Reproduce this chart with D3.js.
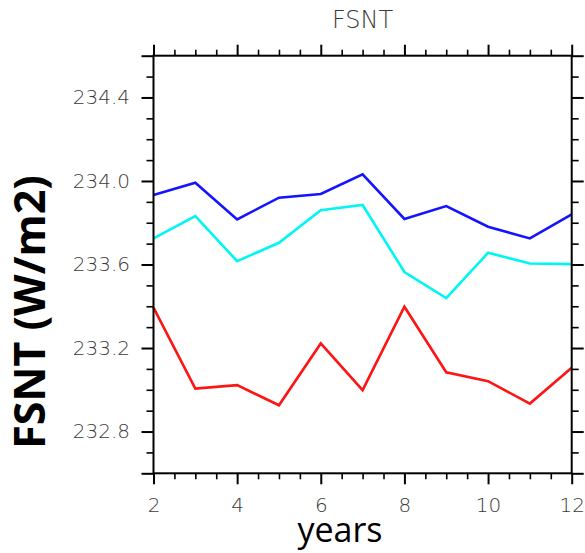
<!DOCTYPE html>
<html>
<head>
<meta charset="utf-8">
<script src="https://cdn.jsdelivr.net/npm/d3@7"></script>
<style>
  html, body { margin: 0; padding: 0; background: #fff; }
  svg { display: block; }
  .tick-label { font-family: "DejaVu Sans", sans-serif; font-weight: 200; fill: #3a3a3a; }
</style>
</head>
<body>
<svg id="chart" width="585" height="553"></svg>
<script>
// Annual-mean net shortwave flux at top of model (FSNT), three runs
const years = [2, 3, 4, 5, 6, 7, 8, 9, 10, 11, 12];
const blueSeries = [233.933, 233.992, 233.816, 233.920, 233.938, 234.032, 233.818, 233.880, 233.781, 233.725, 233.840];
const cyanSeries = [233.725, 233.832, 233.616, 233.704, 233.860, 233.885, 233.564, 233.439, 233.656, 233.605, 233.602];
const redSeries  = [233.393, 233.006, 233.022, 232.926, 233.222, 232.998, 233.398, 233.084, 233.041, 232.934, 233.105];

const xMajorTicks = [2, 4, 6, 8, 10, 12];
const xMinorTicks = [2.5, 3, 3.5, 4.5, 5, 5.5, 6.5, 7, 7.5, 8.5, 9, 9.5, 10.5, 11, 11.5];
const yMajorTicks = [232.8, 233.2, 233.6, 234.0, 234.4];
const yEdgeTicks = [232.6, 234.6];
const yMinorTicks = [232.7, 232.9, 233.0, 233.1, 233.3, 233.4, 233.5, 233.7, 233.8, 233.9, 234.1, 234.2, 234.3, 234.5];

const series = [
  { name: "blue", values: blueSeries, color: "#1414ff" },
  { name: "cyan", values: cyanSeries, color: "#00f5f5" },
  { name: "red",  values: redSeries,  color: "#ff1414" }
];

const svg = d3.select("#chart");
const plotLeft = 153.5, plotRight = 571.7, plotTop = 55.7, plotBottom = 473.3;

const x = d3.scaleLinear().domain([2, 12]).range([plotLeft, plotRight]);
const y = d3.scaleLinear().domain([232.6, 234.6]).range([plotBottom, plotTop]);

// Data lines
const line = d3.line().x((d, i) => x(years[i])).y(d => y(d));
const plot = svg.append("g");
series.forEach(s => {
  plot.append("path")
    .datum(s.values)
    .attr("fill", "none")
    .attr("stroke", s.color)
    .attr("stroke-width", 2.6)
    .attr("stroke-linejoin", "miter")
    .attr("d", line);
});

// Axes: outward ticks on all four sides
function styleAxis(g, width) {
  g.select(".domain").remove();
  g.selectAll(".tick line").attr("stroke", "#000").attr("stroke-width", width);
}

svg.append("g").attr("transform", `translate(0,${plotBottom})`)
  .call(d3.axisBottom(x).tickValues(xMajorTicks).tickSize(11).tickPadding(14).tickFormat(d3.format("d")))
  .call(g => styleAxis(g, 2))
  .call(g => g.selectAll("text").attr("class", "tick-label").attr("font-size", 20).attr("fill", null));
svg.append("g").attr("transform", `translate(0,${plotBottom})`)
  .call(d3.axisBottom(x).tickValues(xMinorTicks).tickSize(6).tickFormat(""))
  .call(g => styleAxis(g, 1.6));
svg.append("g").attr("transform", `translate(0,${plotTop})`)
  .call(d3.axisTop(x).tickValues(xMajorTicks).tickSize(11).tickFormat(""))
  .call(g => styleAxis(g, 2));
svg.append("g").attr("transform", `translate(0,${plotTop})`)
  .call(d3.axisTop(x).tickValues(xMinorTicks).tickSize(6).tickFormat(""))
  .call(g => styleAxis(g, 1.6));

svg.append("g").attr("transform", `translate(${plotLeft},0)`)
  .call(d3.axisLeft(y).tickValues(yMajorTicks).tickSize(12).tickPadding(11.5).tickFormat(d3.format(".1f")))
  .call(g => styleAxis(g, 2))
  .call(g => g.selectAll("text").attr("class", "tick-label").attr("font-size", 20).attr("fill", null));
svg.append("g").attr("transform", `translate(${plotLeft},0)`)
  .call(d3.axisLeft(y).tickValues(yEdgeTicks).tickSize(12).tickFormat(""))
  .call(g => styleAxis(g, 2));
svg.append("g").attr("transform", `translate(${plotLeft},0)`)
  .call(d3.axisLeft(y).tickValues(yMinorTicks).tickSize(7).tickFormat(""))
  .call(g => styleAxis(g, 1.6));
svg.append("g").attr("transform", `translate(${plotRight},0)`)
  .call(d3.axisRight(y).tickValues(yMajorTicks.concat(yEdgeTicks)).tickSize(12).tickFormat(""))
  .call(g => styleAxis(g, 2));
svg.append("g").attr("transform", `translate(${plotRight},0)`)
  .call(d3.axisRight(y).tickValues(yMinorTicks).tickSize(7).tickFormat(""))
  .call(g => styleAxis(g, 1.6));

// Frame
svg.append("rect")
  .attr("x", plotLeft).attr("y", plotTop)
  .attr("width", plotRight - plotLeft).attr("height", plotBottom - plotTop)
  .attr("fill", "none").attr("stroke", "#000").attr("stroke-width", 2);

// Title and axis titles
svg.append("text")
  .attr("class", "tick-label")
  .attr("x", (plotLeft + plotRight) / 2).attr("y", 28.3)
  .attr("text-anchor", "middle")
  .attr("font-size", 24)
  .text("FSNT");

svg.append("text")
  .attr("x", 340).attr("y", 542)
  .attr("text-anchor", "middle")
  .attr("font-family", "'Open Sans', sans-serif")
  .attr("font-size", 34)
  .attr("fill", "#000")
  .text("years");

svg.append("text")
  .attr("transform", "translate(45,312) rotate(-90)")
  .attr("text-anchor", "middle")
  .attr("font-family", "'Open Sans', sans-serif")
  .attr("font-weight", "bold")
  .attr("font-size", 43)
  .attr("fill", "#000")
  .text("FSNT (W/m2)");
</script>
</body>
</html>
